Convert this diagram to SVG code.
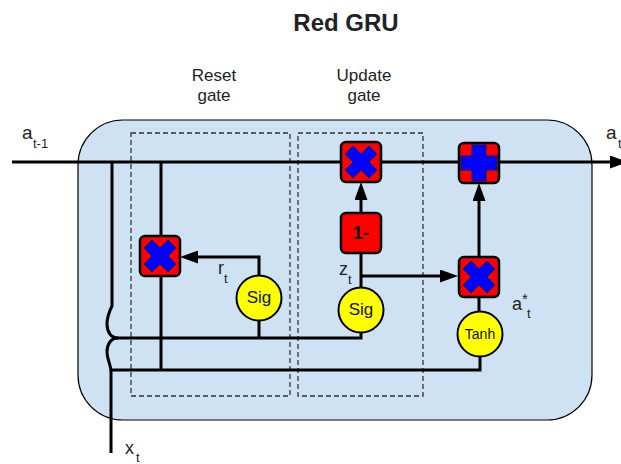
<svg xmlns="http://www.w3.org/2000/svg" width="621" height="464" viewBox="0 0 621 464">
<style>
text{font-family:"Liberation Sans",Arial,sans-serif;fill:#222}
.lbl{font-size:18px}
.sub{font-size:13px}
.gate{font-size:17px;text-anchor:middle}
.ln{fill:none;stroke:#000;stroke-width:3}
.dash{fill:none;stroke:#333;stroke-width:1.3;stroke-dasharray:5 3}
.op{fill:#ff0000;stroke:#000;stroke-width:2.5}
.sym{fill:#0000ff;stroke:#001a66;stroke-width:1}
.act{fill:#ffff00;stroke:#000;stroke-width:2}
.actt{text-anchor:middle;fill:#111}
</style>
<defs>
<marker id="ah" markerUnits="userSpaceOnUse" markerWidth="18" markerHeight="13" viewBox="0 0 18 13" refX="0" refY="6.5" orient="auto">
<path d="M0,0 L18,6.5 L0,13 z" fill="#000"/>
</marker>
<polygon id="xs" points="-16,-8 -8,-16 0,-8 8,-16 16,-8 8,0 16,8 8,16 0,8 -8,16 -16,8 -8,0"/>
</defs>
<rect id="cell" x="78" y="120" width="514" height="300" rx="45" ry="45" fill="#cfe2f3" stroke="#000" stroke-width="1.2"/>
<text x="346" y="31" text-anchor="middle" style="font-size:24px;font-weight:bold">Red GRU</text>
<g id="resetGate">
<rect class="dash" x="131" y="133" width="159" height="263"/>
<text class="gate" x="214" y="81">Reset</text>
<text class="gate" x="214" y="101">gate</text>
</g>
<g id="updateGate">
<rect class="dash" x="298" y="133" width="125" height="263"/>
<text class="gate" x="364" y="81">Update</text>
<text class="gate" x="364" y="101">gate</text>
</g>
<g id="connectors">
<path class="ln" d="M12,162 H610" marker-end="url(#ah)"/>
<path class="ln" d="M112,162 V306 C109,312 107,318 107,324 C107,332 111,338 118,338"/>
<path class="ln" d="M118,338 C111,338 107,344 107,352 C107,360 111,364 111,372 V453"/>
<path class="ln" d="M111,370 H480 V356"/>
<path class="ln" d="M161,162 V370"/>
<path class="ln" d="M117,338 H361 V330"/>
<path class="ln" d="M259,338 V320"/>
<path class="ln" d="M259,276 V257 H198" marker-end="url(#ah)"/>
<path class="ln" d="M361,288 V253"/>
<path class="ln" d="M361,213 V200" marker-end="url(#ah)"/>
<path class="ln" d="M361,276 H440" marker-end="url(#ah)"/>
<path class="ln" d="M479,312 V297"/>
<path class="ln" d="M479,257 V201" marker-end="url(#ah)"/>
</g>
<g id="resetMul">
<rect class="op" x="140" y="236" width="40" height="40" rx="5"/>
<use href="#xs" class="sym" x="160" y="256"/>
</g>
<g id="updateMul">
<rect class="op" x="341" y="142" width="40" height="40" rx="5"/>
<use href="#xs" class="sym" x="361" y="162"/>
</g>
<g id="oneMinus">
<rect class="op" x="341" y="213" width="40" height="40" rx="5"/>
<text x="361" y="239" text-anchor="middle" style="font-size:19px;font-weight:bold;fill:#111">1-</text>
</g>
<g id="add">
<rect class="op" x="459" y="143" width="40" height="40" rx="5"/>
<path class="sym" d="M472,145 H486 V156 H497 V170 H486 V181 H472 V170 H461 V156 H472 Z"/>
</g>
<g id="candMul">
<rect class="op" x="459" y="257" width="40" height="40" rx="5"/>
<use href="#xs" class="sym" x="479" y="277"/>
</g>
<g id="resetSig">
<circle class="act" cx="259" cy="298" r="22.5"/>
<text class="actt" x="259" y="303" style="font-size:17px">Sig</text>
</g>
<g id="updateSig">
<circle class="act" cx="361" cy="310" r="22.5"/>
<text class="actt" x="361" y="315" style="font-size:17px">Sig</text>
</g>
<g id="tanh">
<circle class="act" cx="480" cy="334" r="22.5"/>
<text class="actt" x="480" y="339" style="font-size:14px">Tanh</text>
</g>
<g id="labels">
<text class="lbl" x="22" y="139" style="font-size:19px">a</text><text class="sub" x="33" y="148">t-1</text>
<text class="lbl" x="606" y="139" style="font-size:19px">a</text><text class="sub" x="618" y="148">t</text>
<text class="lbl" x="218" y="274">r</text><text class="sub" x="224" y="283">t</text>
<text class="lbl" x="339" y="275">z</text><text class="sub" x="348" y="284">t</text>
<text class="lbl" x="512" y="310">a</text><text class="sub" x="522" y="304" style="font-size:15px">*</text><text class="sub" x="527" y="318">t</text>
<text class="lbl" x="125" y="454">x</text><text class="sub" x="136" y="462">t</text>
</g>
</svg>
